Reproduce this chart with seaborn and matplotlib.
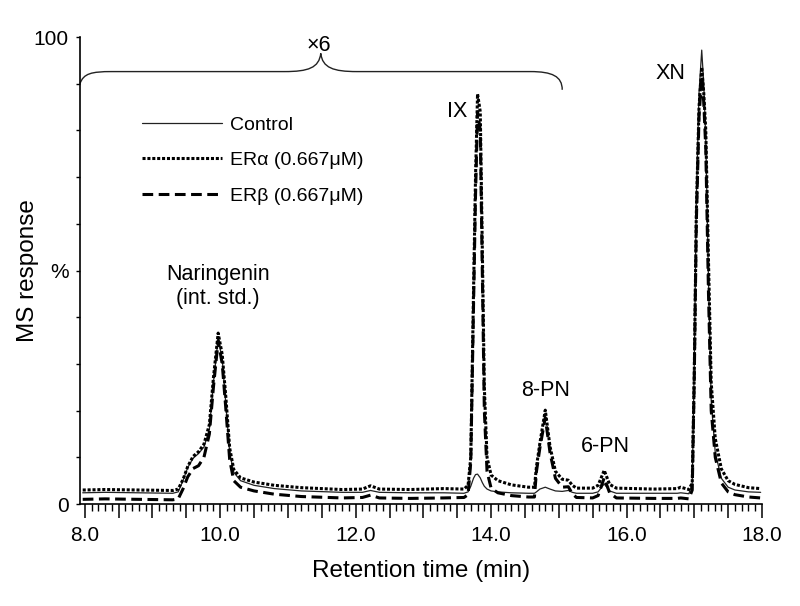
import pandas as pd
import matplotlib
matplotlib.use("Agg")
import matplotlib.pyplot as plt
import seaborn as sns
from matplotlib.ticker import MultipleLocator, FixedLocator, FuncFormatter
from matplotlib.path import Path
from matplotlib.patches import PathPatch

# retention time (min), shared by all three traces
rt = [7.97, 8.3, 8.8, 9.3, 9.38, 9.45, 9.52, 9.6, 9.68, 9.76,
      9.84, 9.9, 9.97, 10.03, 10.08, 10.14, 10.2, 10.3, 10.5, 10.8,
      11.2, 11.8, 12.1, 12.22, 12.35, 12.8, 13.3, 13.6, 13.66, 13.7,
      13.74, 13.77, 13.8, 13.84, 13.87, 13.9, 13.94, 14.0, 14.1, 14.3,
      14.55, 14.64, 14.67, 14.72, 14.8, 14.87, 14.95, 15.05, 15.14, 15.2,
      15.26, 15.5, 15.58, 15.67, 15.75, 15.85, 16.4, 16.75, 16.8, 16.92,
      16.97, 17.0, 17.03, 17.07, 17.11, 17.14, 17.17, 17.21, 17.25, 17.31,
      17.4, 17.5, 17.6, 17.8, 17.98]

# MS response (%)
control = [2.4, 2.5, 2.4, 2.3, 2.6, 5.0, 7.8, 9.8, 10.8, 12.2,
           16.0, 26.0, 35.5, 31.0, 22.0, 11.0, 6.8, 5.0, 4.0, 3.3,
           2.8, 2.5, 2.5, 2.9, 2.5, 2.4, 2.4, 2.3, 2.6, 3.8,
           5.5, 6.3, 6.4, 5.6, 4.6, 3.8, 3.2, 2.8, 2.6, 2.4,
           2.3, 2.3, 2.6, 3.2, 3.6, 3.2, 2.8, 2.7, 2.9, 2.5,
           2.3, 2.3, 2.6, 4.3, 2.8, 2.3, 2.3, 2.3, 2.4, 2.2,
           4.5, 30.0, 65.0, 88.0, 97.2, 90.0, 78.0, 48.0, 22.0, 11.0,
           5.5, 3.6, 3.0, 2.6, 2.5]

er_alpha = [3.0, 3.1, 3.0, 2.9, 3.2, 5.2, 8.0, 10.2, 11.2, 12.8,
            17.0, 27.0, 36.6, 32.0, 23.5, 12.0, 7.4, 5.6, 4.7, 4.0,
            3.5, 3.1, 3.2, 3.9, 3.2, 3.1, 3.3, 3.2, 4.0, 10.0,
            45.0, 70.0, 87.8, 84.0, 55.0, 25.0, 10.0, 6.2, 5.0, 4.1,
            3.6, 3.6, 8.0, 13.0, 20.1, 12.3, 7.0, 5.3, 5.1, 4.0,
            3.4, 3.4, 4.0, 7.2, 4.2, 3.4, 3.2, 3.3, 3.6, 3.1,
            4.5, 28.0, 62.0, 85.0, 93.5, 88.0, 80.0, 52.0, 26.0, 14.0,
            7.5, 5.0, 4.2, 3.5, 3.3]

er_beta = [1.0, 1.1, 1.0, 0.9, 1.1, 3.2, 5.8, 7.6, 8.2, 10.0,
           15.0, 25.0, 35.0, 30.0, 21.0, 9.5, 5.0, 3.6, 2.8, 2.1,
           1.6, 1.3, 1.4, 1.9, 1.3, 1.2, 1.3, 1.4, 2.0, 9.0,
           42.0, 66.0, 84.0, 80.0, 50.0, 20.0, 7.0, 3.4, 2.4, 1.8,
           1.5, 1.5, 7.0, 12.0, 18.5, 11.0, 5.5, 3.6, 3.7, 2.2,
           1.4, 1.3, 1.8, 5.6, 2.4, 1.3, 1.2, 1.2, 1.3, 1.1,
           3.0, 27.0, 60.0, 83.0, 91.5, 86.0, 76.0, 45.0, 20.0, 10.0,
           4.5, 2.6, 2.0, 1.5, 1.3]

df = pd.DataFrame({"rt": rt, "Control": control,
                   "ERα (0.667μM)": er_alpha, "ERβ (0.667μM)": er_beta})

sns.set_style("ticks")
plt.rcParams["font.family"] = ["Liberation Sans", "DejaVu Sans"]
plt.rcParams["text.color"] = "black"
plt.rcParams["axes.labelcolor"] = "black"
plt.rcParams["xtick.color"] = "black"
plt.rcParams["ytick.color"] = "black"

fig = plt.figure(figsize=(8, 6.06), dpi=100)
ax = fig.add_axes([0.1, 0.1683, 0.8525, 0.7706])

sns.lineplot(data=df, x="rt", y="Control", ax=ax, color="#222222",
             linewidth=0.9, label="Control")
sns.lineplot(data=df, x="rt", y="ERα (0.667μM)", ax=ax, color="black",
             linewidth=2.2, linestyle=(0, (1, 0.6)), label="ERα (0.667μM)")
sns.lineplot(data=df, x="rt", y="ERβ (0.667μM)", ax=ax, color="black",
             linewidth=2.2, linestyle=(0, (3.5, 1.8)), label="ERβ (0.667μM)")

ax.set_xlim(7.93, 18.0)
ax.set_ylim(0, 100)
sns.despine(ax=ax)
for s in ["left", "bottom"]:
    ax.spines[s].set_linewidth(1.2)
    ax.spines[s].set_color("black")

# x ticks: long every 0.5, short every 0.1, labels every 2.0
ax.xaxis.set_major_locator(MultipleLocator(0.5))
ax.xaxis.set_minor_locator(MultipleLocator(0.1))
ax.xaxis.set_major_formatter(FuncFormatter(
    lambda v, p: f"{v:.1f}" if abs(v / 2 - round(v / 2)) < 1e-6 else ""))
ax.tick_params(axis="x", which="major", length=10, width=1.1, pad=6,
               labelsize=15)
ax.tick_params(axis="x", which="minor", length=5, width=1.0)

# y ticks
ax.yaxis.set_major_locator(FixedLocator([0, 50, 100]))
ax.set_yticklabels(["0", "%", "100"])
ax.yaxis.set_minor_locator(MultipleLocator(10))
ax.tick_params(axis="y", which="both", length=3, width=1.0, pad=5,
               labelsize=15)

ax.set_xlabel("Retention time (min)", fontsize=17.5)
ax.set_ylabel("MS response", fontsize=17.5)
ax.xaxis.set_label_coords(0.5, -0.12)
ax.yaxis.set_label_coords(-0.06, 0.5)

# peak labels
ax.text(9.97, 46.5, "Naringenin\n(int. std.)", ha="center", va="center",
        fontsize=15.5, linespacing=1.2)
ax.text(13.50, 84.0, "IX", ha="center", va="center", fontsize=15.5)
ax.text(16.645, 92.2, "XN", ha="center", va="center", fontsize=15.5)
ax.text(14.80, 24.4, "8-PN", ha="center", va="center", fontsize=15.5)
ax.text(15.685, 12.3, "6-PN", ha="center", va="center", fontsize=15.5)
ax.text(11.46, 98.2, "×6", ha="center", va="center", fontsize=15.5)

# curly brace over the x6 region
verts = [(7.93, 90.0), (7.98, 92.2), (8.10, 92.6), (8.40, 92.6),
         (10.95, 92.6),
         (11.30, 92.6), (11.46, 93.4), (11.485, 96.5),
         (11.51, 93.4), (11.67, 92.6), (12.02, 92.6),
         (14.58, 92.6),
         (14.90, 92.6), (15.05, 91.6), (15.05, 88.7)]
codes = [Path.MOVETO, Path.CURVE4, Path.CURVE4, Path.CURVE4,
         Path.LINETO,
         Path.CURVE4, Path.CURVE4, Path.CURVE4,
         Path.CURVE4, Path.CURVE4, Path.CURVE4,
         Path.LINETO,
         Path.CURVE4, Path.CURVE4, Path.CURVE4]
ax.add_patch(PathPatch(Path(verts, codes), facecolor="none",
                       edgecolor="#222222", linewidth=1.0, clip_on=False))

ax.legend(loc="upper left", bbox_to_anchor=(0.091, 0.831), frameon=False,
          borderpad=0, borderaxespad=0, handlelength=4.1, handletextpad=0.4,
          labelspacing=0.93, fontsize=14)

fig.savefig("out.png", dpi=100)
